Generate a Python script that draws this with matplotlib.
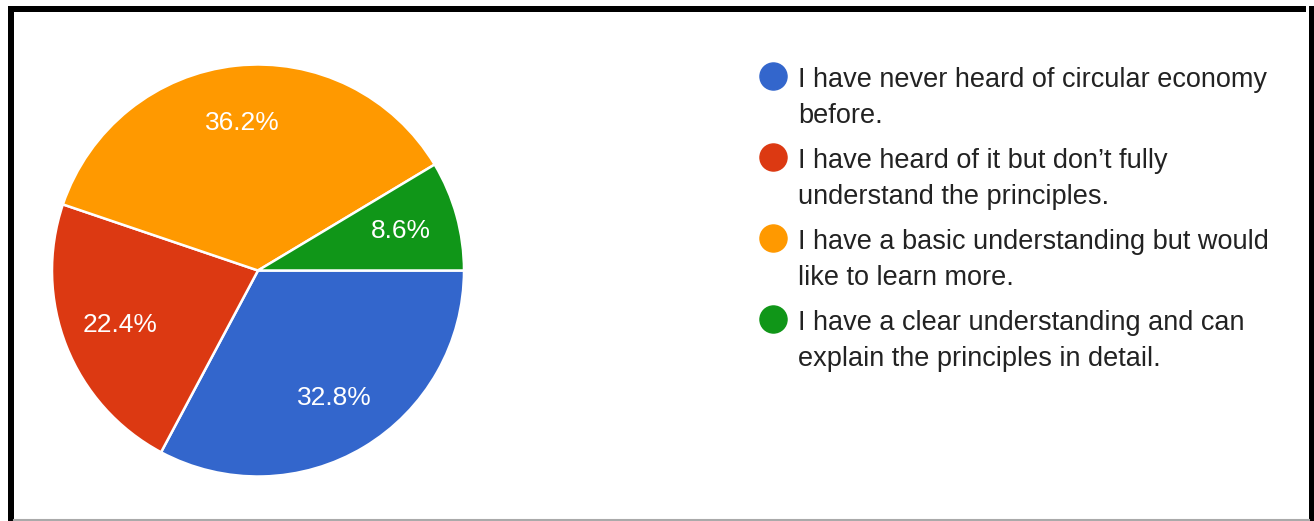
import matplotlib.pyplot as plt
from matplotlib.patches import Rectangle
from matplotlib.lines import Line2D

labels = [
    "I have never heard of circular economy\nbefore.",
    "I have heard of it but don\u2019t fully\nunderstand the principles.",
    "I have a basic understanding but would\nlike to learn more.",
    "I have a clear understanding and can\nexplain the principles in detail.",
]
shares = [32.8, 22.4, 36.2, 8.6]
colors = ["#3366cc", "#dc3912", "#ff9900", "#109618"]

W, H = 1314, 521
plt.rcParams['font.family'] = ['Liberation Sans', 'DejaVu Sans']

fig = plt.figure(figsize=(W / 100, H / 100), dpi=100)
fig.patch.set_facecolor("white")


def fx(px):
    return px / W


def fy(py):
    return 1 - py / H


# pie, centred at (258, 270) px
cx, cy, r = 258, 270.5, 206
ax = fig.add_axes([fx(cx - r), fy(cy + r), 2 * r / W, 2 * r / H])
wedges, _, autotexts = ax.pie(
    shares, colors=colors, startangle=0, counterclock=False,
    autopct="%.1f%%", pctdistance=0.72,
    wedgeprops=dict(edgecolor="white", linewidth=1.8),
    textprops=dict(color="white", fontsize=19),
)
ax.set_xlim(-1, 1)
ax.set_ylim(-1, 1)
ax.set_aspect("auto")

# legend on the right
for i, (lab, col) in enumerate(zip(labels, colors)):
    yc = 76 + 81 * i
    fig.add_artist(Line2D([fx(773)], [fy(yc)], marker="o", markersize=19.5,
                          markerfacecolor=col, markeredgecolor=col,
                          linestyle="none"))
    fig.text(fx(798), fy(yc + 22), lab, fontsize=19.5, color="#222222",
             va="center", ha="left", linespacing=1.52)

# frame around the card
fig.add_artist(Rectangle((fx(8), fy(521)), fx(6), fy(6) - fy(521),
                         facecolor="black", edgecolor="none"))
fig.add_artist(Rectangle((fx(8), fy(12)), fx(1306) - fx(8), fy(6) - fy(12),
                         facecolor="black", edgecolor="none"))
fig.add_artist(Rectangle((fx(1309), fy(521)), fx(6), fy(6) - fy(521),
                         facecolor="black", edgecolor="none"))
fig.add_artist(Line2D([fx(14), fx(1309)], [fy(519.5), fy(519.5)],
                      color="#aaaaaa", linewidth=1.5))

fig.savefig("out.png", dpi=100, facecolor="white")
